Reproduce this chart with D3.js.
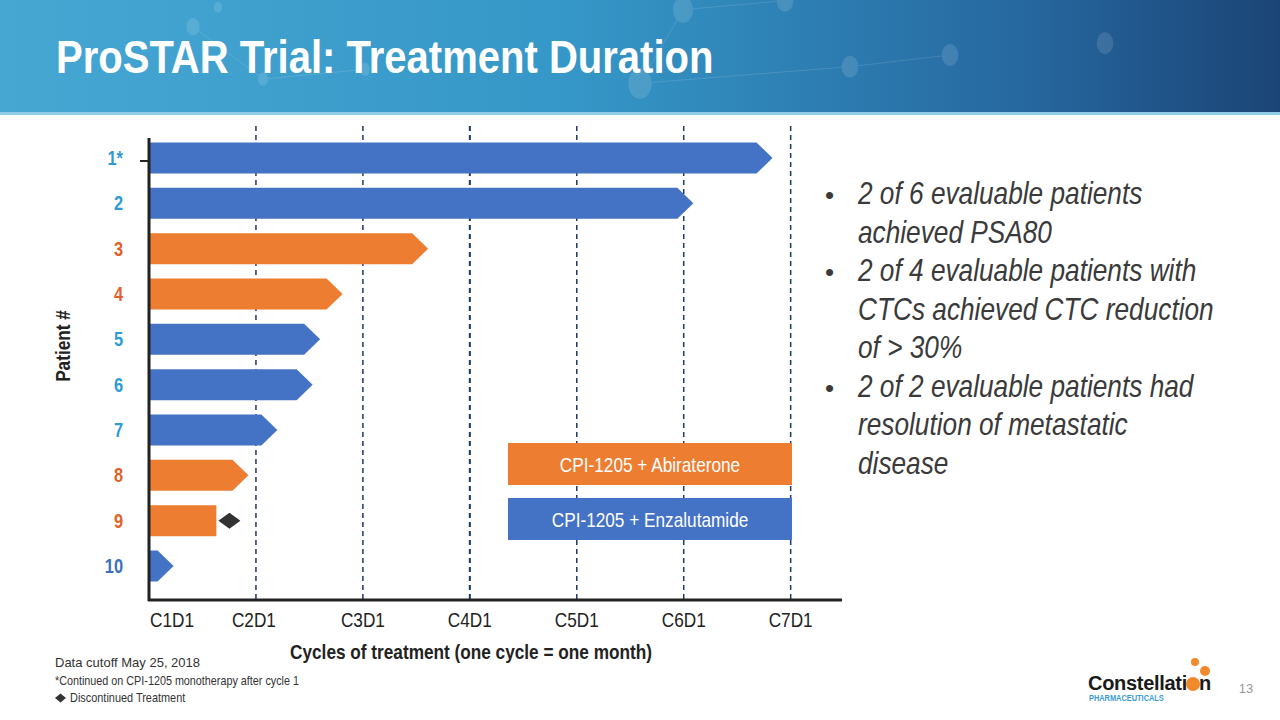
<!DOCTYPE html>
<html>
<head>
<meta charset="utf-8">
<script src="https://cdn.jsdelivr.net/npm/d3@7"></script>
<style>
  html, body { margin: 0; padding: 0; background: #fff; }
  svg { display: block; }
  text { font-family: "Liberation Sans", Arial, sans-serif; }
</style>
</head>
<body>
<svg id="chart" width="1280" height="720"></svg>
<script>
// ---------- Data ----------
const patients = ["1*", "2", "3", "4", "5", "6", "7", "8", "9", "10"];
const durations = [5.83, 5.09, 2.61, 1.81, 1.60, 1.53, 1.20, 0.93, 0.63, 0.23]; // cycles on treatment
const arms = ["Enz", "Enz", "Abi", "Abi", "Enz", "Enz", "Enz", "Abi", "Abi", "Enz"];
const ongoing = [true, true, true, true, true, true, true, true, false, true];
const discontinued = ["9"];
const cycleLabels = ["C1D1", "C2D1", "C3D1", "C4D1", "C5D1", "C6D1", "C7D1"];
const cycleValues = [0, 1, 2, 3, 4, 5, 6];
const legendArms = ["Abi", "Enz"];
const legendLabels = ["CPI-1205 + Abiraterone", "CPI-1205 + Enzalutamide"];
const labelColors = ["#2E9BD2", "#2E9BD2", "#E0622A", "#E0622A", "#2E9BD2", "#2E9BD2", "#2E9BD2", "#E0622A", "#E0622A", "#3D6FC0"];
const bullets = [
  ["2 of 6 evaluable patients", "achieved PSA80"],
  ["2 of 4 evaluable patients with", "CTCs achieved CTC reduction", "of > 30%"],
  ["2 of 2 evaluable patients had", "resolution of metastatic", "disease"]
];
const footnotes = ["Data cutoff May 25, 2018", "*Continued on CPI-1205 monotherapy after cycle 1", "Discontinued Treatment"];

const armColor = d3.scaleOrdinal().domain(["Abi", "Enz"]).range(["#ED7D31", "#4472C4"]);
const NARROW = 0.82; // emulate Arial Narrow

const svg = d3.select("#chart");
const tr = (x, y, s) => `translate(${x},${y}) scale(${s},1)`;

// ---------- Header ----------
const defs = svg.append("defs");
const grad = defs.append("linearGradient").attr("id", "hdr").attr("x1", "0").attr("x2", "1").attr("y1", "0").attr("y2", "0");
grad.append("stop").attr("offset", "0").attr("stop-color", "#47A7D3");
grad.append("stop").attr("offset", "0.45").attr("stop-color", "#3597C7");
grad.append("stop").attr("offset", "0.8").attr("stop-color", "#2668A0");
grad.append("stop").attr("offset", "1").attr("stop-color", "#1B4475");
svg.append("rect").attr("x", 0).attr("y", 0).attr("width", 1280).attr("height", 114).attr("fill", "url(#hdr)");
svg.append("rect").attr("x", 0).attr("y", 112).attr("width", 1280).attr("height", 3).attr("fill", "#8FCBE6");

// faint network decoration
const nodes = [[193, 80, 8], [263, 237, 6], [683, 29, 12], [785, 2, 10], [950, 165, 10], [850, 200, 10], [640, 250, 14], [365, 208, 6], [1105, 130, 10], [218, 22, 5]];
const netLines = [[0, 1], [2, 3], [4, 5], [1, 7], [2, 6], [5, 6]];
const dg = svg.append("g").attr("opacity", 0.12);
netLines.forEach(([a, b]) => {
  dg.append("line").attr("x1", nodes[a][0]).attr("y1", nodes[a][1] / 3).attr("x2", nodes[b][0]).attr("y2", nodes[b][1] / 3)
    .attr("stroke", "#ffffff").attr("stroke-width", 1);
});
nodes.forEach(n => dg.append("ellipse").attr("cx", n[0]).attr("cy", n[1] / 3).attr("rx", n[2] / 1.2).attr("ry", n[2] * 1.1).attr("fill", "#ffffff"));

svg.append("text").attr("transform", tr(56, 73, 0.87))
  .attr("fill", "#ffffff").attr("font-size", 46).attr("font-weight", "bold")
  .text("ProSTAR Trial: Treatment Duration");

// ---------- Scales ----------
const x = d3.scaleLinear().domain([0, 6.48]).range([149, 842]);
const y = d3.scaleBand().domain(patients).range([135.3, 588.7]).paddingInner(0.316).paddingOuter(0.158);

// ---------- Grid lines ----------
svg.append("g").selectAll("line").data(cycleValues.slice(1)).join("line")
  .attr("x1", d => x(d)).attr("x2", d => x(d))
  .attr("y1", 126).attr("y2", 600)
  .attr("stroke", "#1F3864").attr("stroke-width", (d) => d === 3 ? 2 : 1.5)
  .attr("stroke-dasharray", "5,4");

// ---------- Bars ----------
const tip = 16;
const barData = patients.map((p, i) => ({ p, v: durations[i], arm: arms[i], ongoing: ongoing[i] }));
svg.append("g").selectAll("path").data(barData).join("path")
  .attr("fill", d => armColor(d.arm))
  .attr("d", d => {
    const x0 = x(0) + 1, x1 = x(d.v), y0 = y(d.p), h = y.bandwidth();
    if (!d.ongoing) return `M${x0},${y0}H${x1}V${y0 + h}H${x0}Z`;
    const xs = Math.max(x0, x1 - tip);
    return `M${x0},${y0}H${xs}L${x1},${y0 + h / 2}L${xs},${y0 + h}H${x0}Z`;
  });

// discontinued diamond
svg.append("g").selectAll("path").data(barData.filter(d => discontinued.includes(d.p))).join("path")
  .attr("fill", "#333333")
  .attr("d", d => {
    const cx = x(d.v) + 13, cy = y(d.p) + y.bandwidth() / 2;
    return `M${cx - 11},${cy}L${cx},${cy - 8}L${cx + 11},${cy}L${cx},${cy + 8}Z`;
  });

// ---------- Axes ----------
svg.append("line").attr("x1", x(0)).attr("x2", x(0)).attr("y1", 138).attr("y2", 601)
  .attr("stroke", "#222").attr("stroke-width", 3);
svg.append("line").attr("x1", x(0) - 1).attr("x2", 842).attr("y1", 600).attr("y2", 600)
  .attr("stroke", "#222").attr("stroke-width", 3);
svg.append("line").attr("x1", x(0) - 9).attr("x2", x(0)).attr("y1", y(patients[0]) + y.bandwidth() / 2 + 3).attr("y2", y(patients[0]) + y.bandwidth() / 2 + 3)
  .attr("stroke", "#222").attr("stroke-width", 2);

// y labels
svg.append("g").selectAll("text").data(patients).join("text")
  .attr("transform", d => tr(123, y(d) + y.bandwidth() / 2 + 7, NARROW))
  .attr("text-anchor", "end").attr("font-size", 20).attr("font-weight", "bold")
  .attr("fill", (d, i) => labelColors[i])
  .text(d => d);

// x labels
svg.append("g").selectAll("text").data(cycleValues).join("text")
  .attr("transform", (d, i) => tr(i === 0 ? x(d) + 23 : x(d) - (i === 1 ? 2 : 0), 627, NARROW))
  .attr("text-anchor", "middle").attr("font-size", 21).attr("fill", "#222")
  .text((d, i) => cycleLabels[i]);

// axis titles
svg.append("text").attr("transform", tr(471, 659, NARROW))
  .attr("text-anchor", "middle").attr("font-size", 21).attr("font-weight", "bold").attr("fill", "#222")
  .text("Cycles of treatment (one cycle = one month)");
svg.append("text").attr("transform", "translate(70,346) rotate(-90) scale(" + NARROW + ",1)")
  .attr("text-anchor", "middle").attr("font-size", 21).attr("font-weight", "bold").attr("fill", "#222")
  .text("Patient #");

// ---------- Legend ----------
const lg = svg.append("g");
legendArms.forEach((a, i) => {
  const top = 443 + i * 55;
  lg.append("rect").attr("x", 508).attr("y", top).attr("width", 284).attr("height", 42).attr("fill", armColor(a));
  lg.append("text").attr("transform", tr(650, top + 29, NARROW))
    .attr("text-anchor", "middle").attr("font-size", 21).attr("fill", "#fff").text(legendLabels[i]);
});

// ---------- Bullets ----------
const bg = svg.append("g").attr("font-size", 32).attr("font-style", "italic").attr("fill", "#3a3a3a");
let line = 0;
bullets.forEach(b => {
  bg.append("text").attr("transform", tr(825, 204 + line * 38.5, 1)).attr("font-style", "normal").attr("font-size", 26).text("•");
  b.forEach(t => {
    bg.append("text").attr("transform", tr(858, 204 + line * 38.5, NARROW)).text(t);
    line++;
  });
});

// ---------- Footnotes ----------
svg.append("text").attr("x", 55).attr("y", 667).attr("font-size", 13).attr("fill", "#333").text(footnotes[0]);
svg.append("text").attr("transform", tr(55, 685, 0.83)).attr("font-size", 13).attr("fill", "#333").text(footnotes[1]);
svg.append("path").attr("d", "M55,698L60.5,693.5L66,698L60.5,702.5Z").attr("fill", "#333");
svg.append("text").attr("transform", tr(70, 702, 0.84)).attr("font-size", 13).attr("fill", "#333").text(footnotes[2]);

// ---------- Logo & page number ----------
const logo = svg.append("g");
logo.append("text").attr("x", 1088).attr("y", 690).attr("font-size", 20).attr("font-weight", "bold")
  .attr("fill", "#1a1a1a").attr("letter-spacing", "-0.3").text("Constellati");
logo.append("text").attr("x", 1199).attr("y", 690).attr("font-size", 20).attr("font-weight", "bold")
  .attr("fill", "#1a1a1a").text("n");
logo.append("circle").attr("cx", 1193).attr("cy", 684).attr("r", 7).attr("fill", "#F08A2B");
logo.append("circle").attr("cx", 1205).attr("cy", 671).attr("r", 5).attr("fill", "#F08A2B");
logo.append("circle").attr("cx", 1195).attr("cy", 662).attr("r", 4).attr("fill", "#F08A2B");
logo.append("text").attr("transform", tr(1089, 701, 0.78)).attr("font-size", 9.5).attr("font-weight", "bold")
  .attr("fill", "#3A9BD2").text("PHARMACEUTICALS");
svg.append("text").attr("x", 1246).attr("y", 693).attr("text-anchor", "middle").attr("font-size", 13).attr("fill", "#999").text("13");
</script>
</body>
</html>
